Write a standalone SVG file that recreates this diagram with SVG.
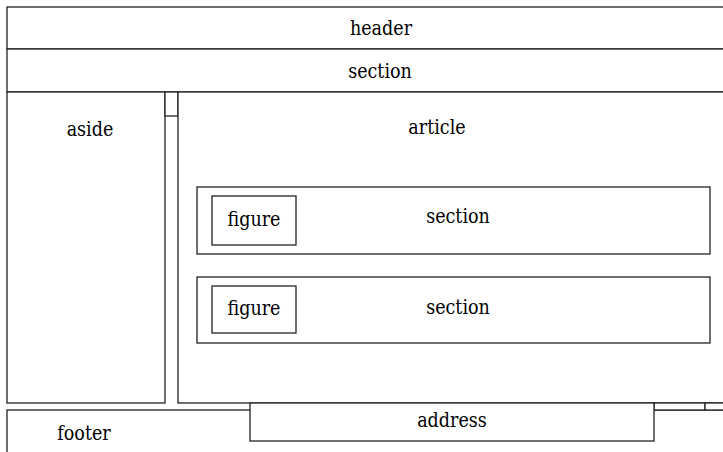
<svg xmlns="http://www.w3.org/2000/svg" width="723" height="452" viewBox="0 0 723 452">
<style>
rect{fill:#fff;stroke:#222;stroke-width:1.3}
text{font-family:"DejaVu Serif Condensed","DejaVu Serif",serif;font-stretch:condensed;font-size:19.5px;fill:#000;text-anchor:middle}
</style>
<rect x="0" y="0" width="723" height="452" style="stroke:none"/>
<g id="header"><rect x="7" y="7" width="730" height="42"/><text x="381" y="35">header</text></g>
<g id="section-top"><rect x="7" y="49" width="730" height="43"/><text x="380" y="78">section</text></g>
<g id="aside"><rect x="7" y="92" width="158" height="311"/><text x="90" y="136">aside</text></g>
<g id="spacer"><rect x="165" y="92" width="13" height="24"/></g>
<g id="article"><rect x="178" y="92" width="560" height="311"/><text x="437" y="134">article</text></g>
<g id="section-1"><rect x="197" y="187" width="513" height="67"/><text x="458" y="223">section</text></g>
<g id="figure-1"><rect x="212" y="196" width="84" height="49"/><text x="254" y="226">figure</text></g>
<g id="section-2"><rect x="197" y="277" width="513" height="66"/><text x="458" y="314">section</text></g>
<g id="figure-2"><rect x="212" y="286" width="84" height="47"/><text x="254" y="315">figure</text></g>
<g id="footer"><rect x="7" y="410" width="730" height="50"/><text x="84" y="440">footer</text></g>
<g id="small-1"><rect x="654" y="403" width="51" height="7"/></g>
<g id="small-2"><rect x="705" y="403" width="30" height="7"/></g>
<g id="address"><rect x="250" y="403" width="404" height="38"/><text x="452" y="427">address</text></g>
<g id="connectors"></g>
</svg>
